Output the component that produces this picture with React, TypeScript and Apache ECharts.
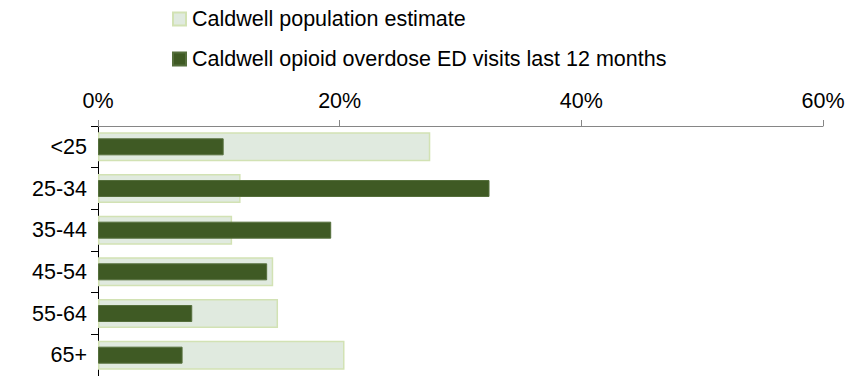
import React, { useEffect, useRef } from "react";
import * as echarts from "echarts";

const categories = ["<25", "25-34", "35-44", "45-54", "55-64", "65+"];
const populationEstimate = [27.5, 11.8, 11.1, 14.5, 14.9, 20.4];
const edVisits = [10.4, 32.4, 19.3, 14.0, 7.8, 7.0];
const xTicks = { min: 0, max: 60, interval: 20 };
const seriesNames = [
  "Caldwell population estimate",
  "Caldwell opioid overdose ED visits last 12 months",
];

export default function App() {
  const ref = useRef<HTMLDivElement>(null);
  useEffect(() => {
    if (!ref.current) return;
    const chart = echarts.init(ref.current, null, { renderer: "svg" });
    const font = "'Liberation Sans', Arial, sans-serif";
    const fs = 21.5;
    chart.setOption({
      animation: false,
      textStyle: { fontFamily: font },
      legend: [
        {
          data: [seriesNames[0]],
          left: 172,
          top: 8,
          padding: 0,
          icon: "rect",
          itemWidth: 13,
          itemHeight: 13,
          textStyle: { fontSize: fs, color: "#000", fontFamily: font, padding: [0, 0, 0, 1] },
        },
        {
          data: [seriesNames[1]],
          left: 172,
          top: 48,
          padding: 0,
          icon: "rect",
          itemWidth: 13,
          itemHeight: 13,
          textStyle: { fontSize: fs, color: "#000", fontFamily: font, padding: [0, 0, 0, 1] },
        },
      ],
      grid: { left: 98, right: 27, top: 126, height: 251, containLabel: false },
      xAxis: {
        type: "value",
        position: "top",
        min: xTicks.min,
        max: xTicks.max,
        interval: xTicks.interval,
        axisLine: { show: true, lineStyle: { color: "#868686", width: 1 } },
        axisTick: { show: true, length: 6, lineStyle: { color: "#868686" } },
        splitLine: { show: false },
        axisLabel: {
          formatter: "{value}%",
          fontSize: fs,
          color: "#000",
          margin: 14,
          fontFamily: font,
        },
      },
      yAxis: [
        {
          type: "category",
          data: categories,
          inverse: true,
          axisLine: { show: true, lineStyle: { color: "#000", width: 1 } },
          axisTick: { show: true, length: 7, lineStyle: { color: "#000" } },
          axisLabel: { fontSize: fs, color: "#000", margin: 11, fontFamily: font },
        },
        {
          type: "category",
          data: categories,
          inverse: true,
          position: "left",
          show: false,
        },
      ],
      series: [
        {
          name: seriesNames[0],
          type: "bar",
          yAxisIndex: 0,
          data: populationEstimate,
          barWidth: 29,
          itemStyle: { color: "#E0EADF", borderColor: "#D2E2B4", borderWidth: 1.5 },
          z: 1,
        },
        {
          name: seriesNames[1],
          type: "bar",
          yAxisIndex: 1,
          data: edVisits,
          barWidth: 17,
          itemStyle: { color: "#3F5A24", borderColor: "#556F3C", borderWidth: 1 },
          z: 2,
        },
      ],
    });
    return () => chart.dispose();
  }, []);
  return <div ref={ref} style={{ width: 850, height: 376, position: "absolute", left: 0, top: 0 }} />;
}
